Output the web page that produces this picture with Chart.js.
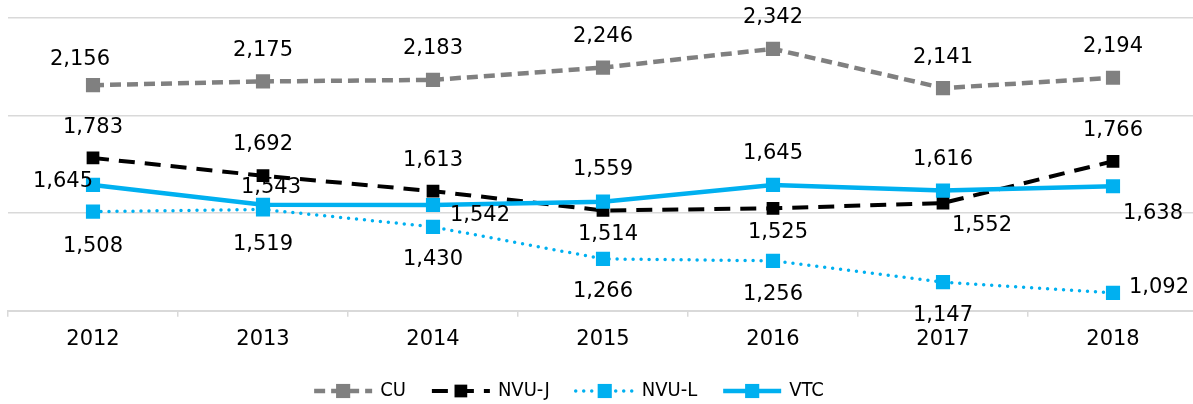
<!DOCTYPE html>
<html>
<head>
<meta charset="utf-8">
<script src="https://cdn.jsdelivr.net/npm/chart.js@4.4.1/dist/chart.umd.min.js"></script>
<style>
    body { margin: 0; overflow: hidden; background: #fff; }
    #grafico { display: block; }
</style>
</head>
<body>
<canvas id="grafico" width="1198" height="404"></canvas>
<script>
const anos = ['2012', '2013', '2014', '2015', '2016', '2017', '2018'];

const cu   = [2156, 2175, 2183, 2246, 2342, 2141, 2194];
const nvuJ = [1783, 1692, 1613, 1514, 1525, 1552, 1766];
const nvuL = [1508, 1519, 1430, 1266, 1256, 1147, 1092];
const vtc  = [1645, 1543, 1542, 1559, 1645, 1616, 1638];

const eixoMin = 1000;
const eixoMax = 2500;
const passo = 500;

// onde cada rótulo fica em relação ao seu ponto (dx, dy)
const rotCU   = [[-13, -26], [0, -31], [0, -31], [0, -31], [0, -31], [0, -31], [0, -31]];
const rotNvuJ = [[0, -30], [0, -31], [0, -31], [5, 24], [5, 24], [39, 22], [0, -31]];
const rotNvuL = [[0, 35], [0, 35], [0, 33], [0, 33], [0, 34], [0, 33], [46, -5]];
const rotVtc  = [[-30, -3], [8, -17], [47, 11], [0, -32], [0, -31], [0, -31], [40, 27]];

const AZUL = '#00b0f0';
const CINZA = '#808080';
const FONTE = '"DejaVu Sans", sans-serif';

// RÓTULOS DOS PONTOS
const rotulos = {
    id: 'rotulos',
    afterDatasetsDraw(chart) {
        const ctx = chart.ctx;
        ctx.save();
        ctx.font = '21px ' + FONTE;
        ctx.fillStyle = '#000';
        ctx.textAlign = 'center';
        ctx.textBaseline = 'middle';
        chart.data.datasets.forEach((ds, i) => {
            chart.getDatasetMeta(i).data.forEach((pt, j) => {
                const d = ds.rotulo[j];
                ctx.fillText(ds.data[j].toLocaleString('en-US'), pt.x + d[0], pt.y + d[1]);
            });
        });
        ctx.restore();
    }
};

// LEGENDA (linha + marcador, como no Excel)
const legenda = {
    id: 'legenda',
    afterDraw(chart) {
        const ctx = chart.ctx;
        const simbolo = 62, gapTexto = 6, gapItem = 24;
        ctx.save();
        ctx.font = '20px "Liberation Sans Narrow", "DejaVu Sans Condensed", sans-serif';
        ctx.textBaseline = 'middle';
        ctx.textAlign = 'left';

        const dss = chart.data.datasets;
        let total = 0;
        dss.forEach(ds => total += simbolo + gapTexto + ctx.measureText(ds.label).width);
        total += gapItem * (dss.length - 1);

        const meio = (chart.chartArea.left + chart.chartArea.right) / 2 - 35;
        let x = meio - total / 2;
        const y = 391;

        dss.forEach(ds => {
            ctx.strokeStyle = ds.borderColor;
            ctx.lineWidth = ds.borderWidth;
            ctx.lineCap = ds.borderCapStyle || 'butt';
            ctx.setLineDash(ds.borderDash || []);
            ctx.beginPath();
            ctx.moveTo(x + 2, y);
            ctx.lineTo(x + simbolo - 2, y);
            ctx.stroke();
            ctx.setLineDash([]);

            const lado = ds.pointRadius * Math.SQRT2;
            ctx.fillStyle = ds.pointBackgroundColor;
            ctx.fillRect(x + simbolo / 2 - lado / 2, y - lado / 2, lado, lado);

            ctx.fillStyle = '#000';
            ctx.fillText(ds.label, x + simbolo + gapTexto, y);
            x += simbolo + gapTexto + ctx.measureText(ds.label).width + gapItem;
        });
        ctx.restore();
    }
};

const ctx = document.getElementById('grafico').getContext('2d');

new Chart(ctx, {
    type: 'line',
    data: {
        labels: anos,
        datasets: [
            {
                label: 'CU', data: cu, rotulo: rotCU, order: 3,
                borderColor: CINZA, borderWidth: 4.5, borderDash: [11, 6],
                pointStyle: 'rect', pointRadius: 10, pointBackgroundColor: CINZA, pointBorderWidth: 0
            },
            {
                label: 'NVU-J', data: nvuJ, rotulo: rotNvuJ, order: 2,
                borderColor: '#000', borderWidth: 4, borderDash: [16, 10],
                pointStyle: 'rect', pointRadius: 9, pointBackgroundColor: '#000', pointBorderWidth: 0
            },
            {
                label: 'NVU-L', data: nvuL, rotulo: rotNvuL, order: 1,
                borderColor: AZUL, borderWidth: 3.5, borderDash: [0, 8], borderCapStyle: 'round',
                pointStyle: 'rect', pointRadius: 10, pointBackgroundColor: AZUL, pointBorderWidth: 0
            },
            {
                label: 'VTC', data: vtc, rotulo: rotVtc, order: 0,
                borderColor: AZUL, borderWidth: 4.5,
                pointStyle: 'rect', pointRadius: 10, pointBackgroundColor: AZUL, pointBorderWidth: 0
            }
        ]
    },
    options: {
        responsive: false,
        animation: false,
        layout: { autoPadding: false, padding: { left: 8, top: 18, right: 0, bottom: 42 } },
        plugins: {
            legend: { display: false },
            tooltip: { enabled: false }
        },
        scales: {
            x: {
                offset: true,
                grid: { offset: true, drawOnChartArea: false, tickLength: 6, color: '#d9d9d9', lineWidth: 1.5 },
                border: { color: '#d9d9d9', width: 2 },
                ticks: { font: { family: FONTE, size: 21 }, color: '#000', padding: 10 }
            },
            y: {
                min: eixoMin,
                max: eixoMax,
                ticks: { display: false, stepSize: passo },
                grid: { color: '#d9d9d9', lineWidth: 1.5, drawTicks: false },
                border: { display: false }
            }
        }
    },
    plugins: [rotulos, legenda]
});
</script>
</body>
</html>
